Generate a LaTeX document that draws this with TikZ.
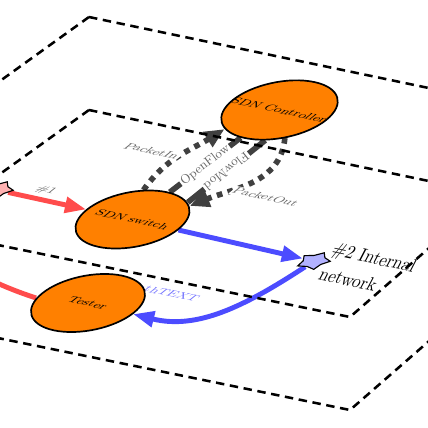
\documentclass[tikz,border=0pt]{standalone}
\usetikzlibrary{arrows.meta,shapes.geometric,backgrounds}

\tikzset{
  plane/.style={line width=1.8pt, dash pattern=on 6pt off 4pt},
  skew/.style={cm={1.14,-0.245,0.854,0.683,(0,0)}},
  tallskew/.style={cm={1.14,-0.245,0.65,1.25,(0,0)}},
  device/.style={skew, circle, draw=black, very thick, fill=orange, minimum size=2cm, inner sep=0pt, font=\footnotesize},
  port/.style={skew, star, star points=5, draw=black, thick, minimum size=0.6cm, inner sep=0pt},
  note/.style={skew, font=\footnotesize, text=black!60},
  redarrow/.style={line width=3.5pt, red!70, -{Triangle[length=15pt,width=11pt]}},
  bluearrow/.style={line width=3.5pt, blue!70, -{Triangle[length=15pt,width=11pt]}},
  ofline/.style={line width=4pt, black!75},
  ofdots/.style={ofline, loosely dotted, -{Triangle[length=14pt,width=12pt]}},
  oflabel/.style={sloped, fill=white, inner sep=1pt, font=\small, text=black!60},
}

\begin{document}
\begin{tikzpicture}[x=0.025cm,y=-0.025cm]
\useasboundingbox (0,0) rectangle (428,428);
\clip (0,0) rectangle (428,428);

% the two planes
\draw[plane] (89,17) -- (577,119) -- (350,317) -- (-178,209) -- cycle;
\draw[plane] (89,110) -- (577,212) -- (350,410) -- (-178,302) -- cycle;

% devices and ports
\node[device] (ctrl) at (279.5,110) {SDN Controller};
\node[device] (sw) at (132.5,219.5) {SDN switch};
\node[device] (tester) at (88,303) {Tester};
\node[port, fill=red!30] (p1) at (-3,190) {};
\node[port, fill=blue!30] (p2) at (314,261) {};
\node[tallskew, align=left] (p2lbl) at (368,270) {\#2 Internal\\[2pt]network};
\node[note, fill=white, inner sep=1pt] (pin) at (152,151) {PacketIn};
\node[note, fill=white, inner sep=1pt] (pout) at (266,197) {PacketOut};

% links, kept under the nodes and the planes
\begin{scope}[on background layer]
\draw[redarrow] (p1) -- node[note, above, pos=0.35] {\#1} (sw);
\draw[redarrow] (tester.190) to[out=162,in=200,looseness=2] (p1.200);
\draw[bluearrow] (sw) -- (p2);
\draw[bluearrow] (p2) to[out=218,in=-10] (tester);
\node[skew, font=\footnotesize, text=blue!55] (ptxt) at (164,293) {pathTEXT};
\draw[ofdots] (sw.116) to[out=55,in=212] (ctrl.239);
\draw[ofline] (sw.87) -- node[oflabel] {OpenFlow} (ctrl.266);
\draw[ofline] (ctrl.293) -- node[oflabel, allow upside down] {FlowMod} (sw.55);
\draw[ofdots] (ctrl.312) to[out=265,in=22] (sw.47);
\end{scope}
\end{tikzpicture}
\end{document}
